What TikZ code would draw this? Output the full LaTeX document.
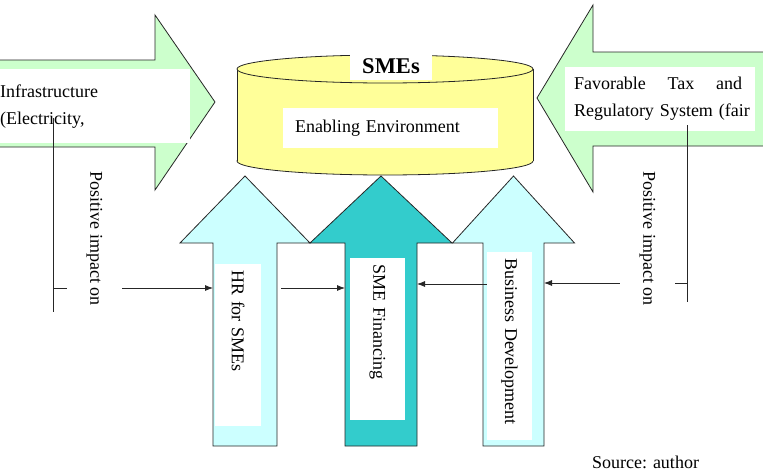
\documentclass[tikz,border=0pt]{standalone}
\usepackage{fontspec}
\setmainfont{Liberation Serif}
\usetikzlibrary{arrows.meta}

\definecolor{mintgreen}{HTML}{CCFFCC}
\definecolor{palecyan}{HTML}{CCFFFF}
\definecolor{fintea}{HTML}{33CCCC}
\definecolor{drumyellow}{HTML}{FFFF99}

\begin{document}
\begin{tikzpicture}[
    x=1pt, y=-1pt,
    outline/.style={draw=black!85, line width=0.8pt},
    link/.style={black!85, line width=0.8pt},
    tip/.style={-{Latex[length=8pt,width=6pt]}},
    txt/.style={font=\fontsize{18}{27}\selectfont},
    whitebox/.style={fill=white, inner ysep=0pt},
    inbox/.style={whitebox, txt, rotate=-90, align=left, inner xsep=6pt},
    impact/.style={whitebox, txt, rotate=-90, minimum height=55pt}
]
\useasboundingbox (0,0) rectangle (763,474);

% ---------- side arrows ----------
\filldraw[outline, fill=mintgreen] (-5,60) -- (155,60) -- (155,15) -- (215,102)
    -- (155,190) -- (155,147) -- (-5,147) -- cycle;
\filldraw[outline, fill=mintgreen] (770,52) -- (593,52) -- (593,5) -- (537,98)
    -- (593,192) -- (593,146) -- (770,146) -- cycle;

\node[whitebox, txt, anchor=north west, minimum width=195pt, minimum height=74pt,
      text width=185pt, inner xsep=5pt, align=left] (infra) at (-5,69)
      {Infrastructure\\(Electricity,};
\node[whitebox, txt, minimum width=190pt, minimum height=64pt,
      text width=172pt, inner xsep=9pt, align=left] (tax) at (660,99)
      {\makebox[168pt][l]{Favorable\hfill Tax\hfill and}\\\mbox{Regulatory System (fair}};

% ---------- SMEs drum ----------
\filldraw[outline, fill=drumyellow] (385,161) ellipse [x radius=148, y radius=14];
\fill[drumyellow] (237,69) rectangle (533,161);
\draw[outline] (237,69) -- (237,161);
\draw[outline] (533,69) -- (533,161);
\filldraw[outline, fill=drumyellow] (385,69) ellipse [x radius=148, y radius=14];

\node[whitebox, font=\fontsize{22.5}{27}\selectfont\bfseries,
      minimum width=82pt, minimum height=27pt] (smes) at (391,66.5) {SMEs};
\node[whitebox, txt, text width=191pt, inner xsep=12pt, align=left,
      minimum height=40pt] (env) at (390.5,128) {Enabling Environment};

% ---------- upward arrows ----------
\foreach \name/\cx/\hw/\sw/\col in {hr/245/65/32/palecyan,
        fin/381/71/36/fintea, bd/513.5/61/30.5/palecyan} {
  \filldraw[outline, fill=\col] (\cx-\sw,446) -- (\cx-\sw,243) -- (\cx-\hw,243)
      -- (\cx,176) -- (\cx+\hw,243) -- (\cx+\sw,243) -- (\cx+\sw,446) -- cycle;
  \coordinate (\name-l) at (\cx-\sw,286);
  \coordinate (\name-r) at (\cx+\sw,286);
}

\node[inbox, text width=150pt, minimum height=46pt] (hrbox) at (238,345) {HR for SMEs};
\node[inbox, text width=150pt, minimum height=55pt] (finbox) at (377.5,339) {SME Financing};
\node[inbox, text width=176pt, minimum height=45pt] (bdbox) at (509.5,346) {Business Development};

% ---------- positive impact links ----------
\coordinate (barL) at (53,288);
\coordinate (barR) at (687,283);
\draw[link] (53,118) -- (53,312);
\draw[link] (687,125) -- (687,302);

\node[impact] (posL) at (94.5,238.5) {Positive impact on};
\node[impact] (posR) at (647.5,238.5) {Positive impact on};

\draw[link] (barL) -- (posL.south |- barL);
\draw[link, tip] (posL.north |- barL) -- (hr-l |- barL);
\draw[link] (barR) -- (posR.north |- barR);
\draw[link, tip] (posR.south |- barR) -- (bd-r |- barR);

\draw[link, tip, shorten <=4pt] (hr-r |- barL) -- (fin-l |- barL);
\draw[link, tip] (bdbox.south |- 0,284) -- (fin-r |- 0,284);

% ---------- source ----------
\node[txt] (src) at (645.5,462) {Source: author};

\end{tikzpicture}
\end{document}
